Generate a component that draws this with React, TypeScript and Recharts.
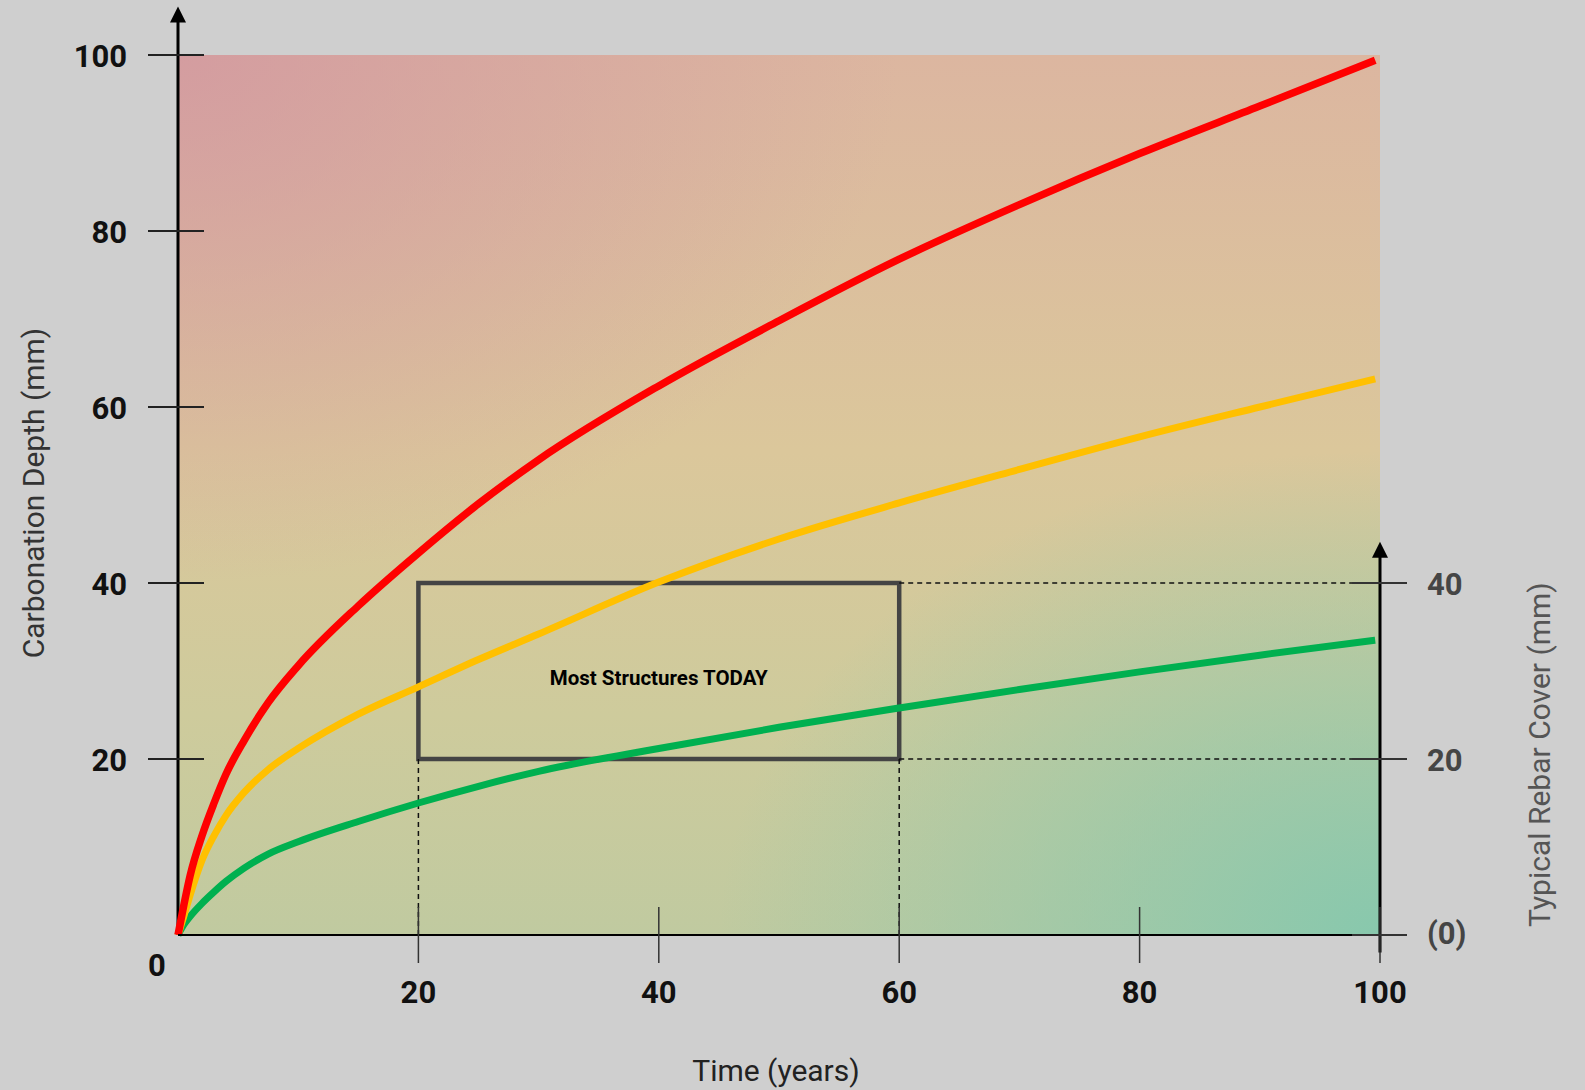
import React from "react";
import { LineChart, Line, XAxis, YAxis, ReferenceArea, ReferenceLine, ReferenceDot } from "recharts";

// time in years and carbonation depth (mm) for the three curves
const YEARS = [0, 0.5, 1, 2, 3, 4, 5.5, 7.5, 10, 15, 20, 25, 30, 40, 50, 60, 70, 80, 90, 99.6];
const HIGH = [0, 3.5, 6.7, 11.3, 15, 18.3, 22.1, 26.4, 30.6, 37.4, 43.4, 49, 54, 62.4, 69.8, 76.8, 83, 88.8, 94.2, 99.4];
const MEDIUM = [0, 2.2, 4.5, 8.5, 11.3, 13.6, 16.2, 18.8, 21.2, 25.1, 28.2, 31.3, 34.2, 40.1, 45, 49.1, 52.9, 56.6, 60, 63.2];
const LOW = [0, 1.2, 2.1, 3.6, 4.9, 6.1, 7.6, 9.2, 10.6, 12.9, 15, 16.9, 18.6, 21.2, 23.6, 25.8, 27.9, 29.9, 31.8, 33.5];

const X_TICKS = [20, 40, 60, 80, 100];
const DEPTH_TICKS = [0, 20, 40, 60, 80, 100];
const COVER_TICKS = [0, 20, 40];
const COVER_LABELS = ["(0)", "20", "40"];

// "Most Structures TODAY" window
const BOX_YEARS = [20, 60];
const BOX_COVER = [20, 40];

const DEPTH_AXIS_TOP = 105.5;
const COVER_AXIS_TOP = 44.7;

const rows = YEARS.map((t, i) => ({ t, high: HIGH[i], medium: MEDIUM[i], low: LOW[i] }));

const FONT = "Roboto, 'Noto Sans', sans-serif";
const tickText = { fontFamily: FONT, fontWeight: 700, fontSize: 31 };

const DepthTick = (props: any) => {
  const { x, y, payload } = props;
  if (payload.value === 0) {
    return (
      <text x={x - 21} y={y + 41} textAnchor="middle" fill="#111" style={tickText}>
        0
      </text>
    );
  }
  return (
    <g>
      <line x1={x - 30} x2={x + 26} y1={y} y2={y} stroke="#222" strokeWidth={2} />
      <text x={x - 51} y={y + 12} textAnchor="end" fill="#111" style={tickText}>
        {payload.value}
      </text>
    </g>
  );
};

const TimeTick = (props: any) => {
  const { x, y, payload } = props;
  return (
    <g>
      <line x1={x} x2={x} y1={y - 28} y2={y + 28} stroke="#333" strokeWidth={1.5} />
      <text x={x} y={y + 68} textAnchor="middle" fill="#111" style={tickText}>
        {payload.value}
      </text>
    </g>
  );
};

const coverTick = (label: string) => (p: any) => (
  <g>
    <line x1={p.cx - 28} x2={p.cx + 27} y1={p.cy} y2={p.cy} stroke="#333" strokeWidth={2} />
    <text x={p.cx + 47} y={p.cy + (label === "(0)" ? 9 : 12)} textAnchor="start" fill="#454545" style={tickText}>
      {label}
    </text>
  </g>
);

const arrowHead = (p: any) => (
  <path d={`M${p.cx},${p.cy} L${p.cx - 8},${p.cy + 16} L${p.cx + 8},${p.cy + 16} Z`} fill="#000" />
);

const titleStyle = { fontFamily: FONT, fontSize: 30 };

const leftTitle = ({ viewBox }: any) => {
  const cx = viewBox.x - 45;
  const cy = viewBox.y + viewBox.height / 2 - 2;
  return (
    <text x={cx} y={cy} transform={`rotate(-90 ${cx} ${cy})`} textAnchor="middle" dominantBaseline="central" fill="#333" style={titleStyle}>
      Carbonation Depth (mm)
    </text>
  );
};

const rightTitle = ({ viewBox }: any) => {
  const cx = viewBox.x + 160;
  const cy = viewBox.y + viewBox.height * 0.795;
  return (
    <text x={cx} y={cy} transform={`rotate(-90 ${cx} ${cy})`} textAnchor="middle" dominantBaseline="central" fill="#555" style={titleStyle}>
      Typical Rebar Cover (mm)
    </text>
  );
};

const bottomTitle = ({ viewBox }: any) => (
  <text x={viewBox.x + viewBox.width / 2 - 3} y={viewBox.y + 146} textAnchor="middle" fill="#222" style={titleStyle}>
    Time (years)
  </text>
);

const boxLabel = ({ viewBox }: any) => (
  <text
    x={viewBox.x + viewBox.width / 2}
    y={viewBox.y + viewBox.height / 2 + 14}
    textAnchor="middle"
    fill="#000"
    style={{ fontFamily: FONT, fontWeight: 700, fontSize: 20.5 }}
  >
    Most Structures TODAY
  </text>
);

export default function App() {
  return (
    <div style={{ position: "absolute", left: 0, top: 0, width: 1585, height: 1090, background: "#cfcfcf" }}>
      <LineChart width={1585} height={1090} data={rows} margin={{ top: 55, right: 105, bottom: 55, left: 78 }}>
        <defs>
          <linearGradient id="bgBase" x1="0" y1="0" x2="0" y2="1">
            <stop offset="0" stopColor="#dcb6a0" />
            <stop offset="0.45" stopColor="#dbc79b" />
            <stop offset="0.75" stopColor="#cecb9c" />
            <stop offset="1" stopColor="#c0caa0" />
          </linearGradient>
          <radialGradient id="bgPink" cx="0" cy="0" r="0.6">
            <stop offset="0" stopColor="#d194a0" stopOpacity={0.75} />
            <stop offset="1" stopColor="#d194a0" stopOpacity={0} />
          </radialGradient>
          <radialGradient id="bgTeal" cx="1" cy="1" r="0.55">
            <stop offset="0" stopColor="#88c8ad" stopOpacity={1} />
            <stop offset="1" stopColor="#88c8ad" stopOpacity={0} />
          </radialGradient>
        </defs>
        <XAxis
          type="number"
          dataKey="t"
          domain={[0, 100]}
          ticks={X_TICKS}
          interval={0}
          height={100}
          tickSize={0}
          tickMargin={0}
          tickLine={false}
          axisLine={{ stroke: "#000", strokeWidth: 2 }}
          tick={<TimeTick />}
          label={{ content: bottomTitle }}
        />
        <YAxis
          yAxisId="left"
          type="number"
          domain={[0, 100]}
          ticks={DEPTH_TICKS}
          interval={0}
          width={100}
          tickSize={0}
          tickMargin={0}
          tickLine={false}
          axisLine={false}
          tick={<DepthTick />}
          label={{ content: leftTitle }}
        />
        <YAxis
          yAxisId="right"
          orientation="right"
          type="number"
          domain={[0, 100]}
          width={100}
          tickLine={false}
          axisLine={false}
          tick={false}
          label={{ content: rightTitle }}
        />
        <ReferenceArea yAxisId="left" x1={0} x2={100} y1={0} y2={100} fill="url(#bgBase)" fillOpacity={1} stroke="none" />
        <ReferenceArea yAxisId="left" x1={0} x2={100} y1={0} y2={100} fill="url(#bgPink)" fillOpacity={1} stroke="none" />
        <ReferenceArea yAxisId="left" x1={0} x2={100} y1={0} y2={100} fill="url(#bgTeal)" fillOpacity={1} stroke="none" />

        {BOX_YEARS.map((yr) => (
          <ReferenceLine
            key={`v${yr}`}
            yAxisId="left"
            segment={[{ x: yr, y: 0 }, { x: yr, y: BOX_COVER[0] }]}
            stroke="#111"
            strokeWidth={1.5}
            strokeDasharray="5 4"
          />
        ))}
        {BOX_COVER.map((c) => (
          <ReferenceLine
            key={`h${c}`}
            yAxisId="left"
            segment={[{ x: BOX_YEARS[1], y: c }, { x: 100, y: c }]}
            stroke="#111"
            strokeWidth={1.5}
            strokeDasharray="5 4"
          />
        ))}
        <ReferenceArea
          yAxisId="left"
          x1={BOX_YEARS[0]}
          x2={BOX_YEARS[1]}
          y1={BOX_COVER[0]}
          y2={BOX_COVER[1]}
          fill="none"
          stroke="#444"
          strokeWidth={4.5}
          label={{ content: boxLabel }}
        />

        <ReferenceLine
          yAxisId="left"
          ifOverflow="visible"
          segment={[{ x: 0, y: 0 }, { x: 0, y: DEPTH_AXIS_TOP - 1 }]}
          stroke="#000"
          strokeWidth={3}
        />
        <ReferenceDot yAxisId="left" ifOverflow="visible" x={0} y={DEPTH_AXIS_TOP} shape={arrowHead} />
        <ReferenceLine
          yAxisId="left"
          ifOverflow="visible"
          segment={[{ x: 100, y: -2 }, { x: 100, y: COVER_AXIS_TOP - 1 }]}
          stroke="#000"
          strokeWidth={3}
        />
        <ReferenceDot yAxisId="left" ifOverflow="visible" x={100} y={COVER_AXIS_TOP} shape={arrowHead} />
        {COVER_TICKS.map((c, i) => (
          <ReferenceDot key={`c${c}`} yAxisId="left" ifOverflow="visible" x={100} y={c} shape={coverTick(COVER_LABELS[i])} />
        ))}

        <Line yAxisId="left" type="monotone" dataKey="low" stroke="#00b050" strokeWidth={7} dot={false} isAnimationActive={false} />
        <Line yAxisId="left" type="monotone" dataKey="medium" stroke="#ffc000" strokeWidth={7} dot={false} isAnimationActive={false} />
        <Line yAxisId="left" type="monotone" dataKey="high" stroke="#ff0000" strokeWidth={7.5} dot={false} isAnimationActive={false} />
      </LineChart>
    </div>
  );
}
